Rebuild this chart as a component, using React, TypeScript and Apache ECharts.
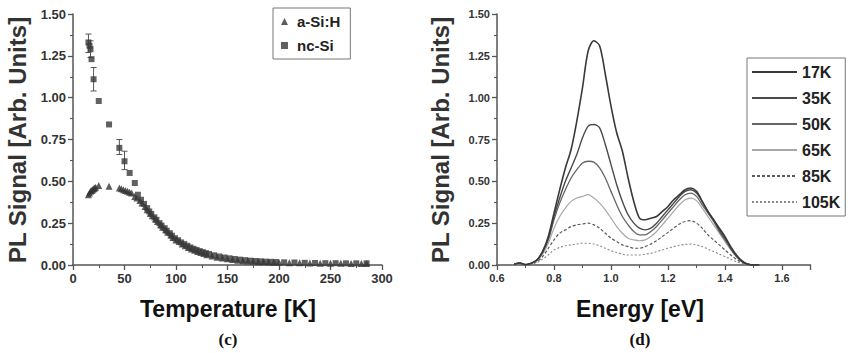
import React, { useEffect, useRef } from "react";
import * as echarts from "echarts";

// ---- Panel (c): PL signal vs temperature ----
const tempA = [15, 16, 17, 18, 19, 20, 21, 22, 25, 35, 45, 47, 49, 51, 53, 55, 57, 60, 62, 65, 67, 70, 72, 75, 77, 80, 82, 85, 87, 90, 92, 95, 97, 100, 103, 106, 109, 112, 115, 118, 121, 124, 127, 130, 135, 140, 145, 150, 155, 160, 165, 170, 175, 180, 185, 190, 195, 200, 210, 220, 230, 240, 250, 260, 270, 280, 285];
const sigA = [0.42, 0.43, 0.44, 0.445, 0.45, 0.455, 0.46, 0.465, 0.475, 0.47, 0.46, 0.455, 0.45, 0.445, 0.44, 0.435, 0.43, 0.41, 0.4, 0.385, 0.37, 0.35, 0.33, 0.31, 0.295, 0.275, 0.26, 0.24, 0.225, 0.21, 0.195, 0.18, 0.165, 0.15, 0.14, 0.125, 0.115, 0.105, 0.095, 0.088, 0.08, 0.074, 0.068, 0.062, 0.054, 0.047, 0.042, 0.037, 0.033, 0.029, 0.026, 0.024, 0.022, 0.02, 0.019, 0.018, 0.017, 0.016, 0.014, 0.013, 0.012, 0.011, 0.01, 0.01, 0.009, 0.009, 0.009];

const tempN = [15, 16, 17, 18, 20, 25, 35, 45, 50, 55, 60, 63, 66, 69, 72, 74, 76, 79, 81, 84, 86, 89, 91, 94, 96, 99, 102, 105, 108, 111, 114, 117, 120, 123, 126, 129, 132, 137, 142, 147, 152, 157, 162, 167, 172, 177, 182, 187, 192, 197, 205, 215, 225, 235, 245, 255, 265, 275, 285];
const sigN = [1.33, 1.31, 1.29, 1.23, 1.11, 0.98, 0.84, 0.7, 0.62, 0.55, 0.49, 0.42, 0.39, 0.365, 0.34, 0.32, 0.305, 0.285, 0.27, 0.25, 0.235, 0.22, 0.205, 0.19, 0.175, 0.16, 0.148, 0.135, 0.125, 0.115, 0.105, 0.097, 0.09, 0.083, 0.077, 0.071, 0.066, 0.058, 0.051, 0.045, 0.04, 0.036, 0.032, 0.029, 0.026, 0.024, 0.022, 0.02, 0.019, 0.018, 0.016, 0.015, 0.013, 0.012, 0.011, 0.011, 0.01, 0.01, 0.01];

const errT = [15, 17, 20, 45, 50];
const errLow = [1.27, 1.24, 1.04, 0.66, 0.57];
const errHigh = [1.38, 1.34, 1.18, 0.75, 0.68];

const tempTicks = ["0", "50", "100", "150", "200", "250", "300"];

// ---- Panel (d): PL spectra ----
const energy = [0.66, 0.68, 0.70, 0.72, 0.74, 0.76, 0.78, 0.80, 0.82, 0.84, 0.86, 0.88, 0.90, 0.92, 0.94, 0.96, 0.98, 1.00, 1.02, 1.04, 1.06, 1.08, 1.10, 1.12, 1.14, 1.16, 1.18, 1.20, 1.22, 1.24, 1.26, 1.28, 1.30, 1.32, 1.34, 1.36, 1.38, 1.40, 1.42, 1.44, 1.46, 1.48, 1.50, 1.52];
const k17 = [0.005, 0.012, 0.002, 0.01, 0.03, 0.08, 0.17, 0.31, 0.45, 0.58, 0.69, 0.86, 1.06, 1.28, 1.34, 1.31, 1.14, 0.95, 0.79, 0.68, 0.52, 0.38, 0.28, 0.27, 0.28, 0.29, 0.32, 0.35, 0.39, 0.42, 0.45, 0.46, 0.44, 0.38, 0.32, 0.27, 0.22, 0.17, 0.11, 0.06, 0.025, 0.005, 0.0, 0.0];
const k35 = [0.005, 0.012, 0.002, 0.01, 0.03, 0.08, 0.16, 0.29, 0.4, 0.5, 0.58, 0.66, 0.76, 0.83, 0.84, 0.82, 0.72, 0.6, 0.48, 0.38, 0.3, 0.25, 0.22, 0.21, 0.22, 0.25, 0.29, 0.33, 0.37, 0.41, 0.44, 0.45, 0.43, 0.38, 0.32, 0.27, 0.21, 0.16, 0.1, 0.055, 0.02, 0.005, 0.0, 0.0];
const k50 = [0.005, 0.01, 0.002, 0.01, 0.03, 0.075, 0.15, 0.27, 0.37, 0.45, 0.52, 0.57, 0.61, 0.62, 0.615, 0.58, 0.52, 0.44, 0.36, 0.29, 0.24, 0.2, 0.18, 0.18, 0.2, 0.23, 0.27, 0.31, 0.35, 0.39, 0.42, 0.43, 0.41, 0.36, 0.31, 0.26, 0.2, 0.15, 0.1, 0.05, 0.02, 0.005, 0.0, 0.0];
const k65 = [0.005, 0.01, 0.002, 0.01, 0.025, 0.065, 0.13, 0.22, 0.29, 0.34, 0.38, 0.4, 0.41, 0.42, 0.4, 0.37, 0.33, 0.28, 0.23, 0.19, 0.16, 0.15, 0.145, 0.15, 0.17, 0.2, 0.24, 0.28, 0.32, 0.36, 0.39, 0.4, 0.385, 0.34, 0.29, 0.24, 0.19, 0.14, 0.09, 0.05, 0.02, 0.005, 0.0, 0.0];
const k85 = [0.005, 0.008, 0.002, 0.008, 0.02, 0.05, 0.1, 0.15, 0.19, 0.21, 0.23, 0.24, 0.245, 0.25, 0.24, 0.22, 0.19, 0.16, 0.14, 0.12, 0.11, 0.1, 0.1, 0.11, 0.125, 0.145, 0.17, 0.195, 0.22, 0.245, 0.26, 0.265, 0.25, 0.22, 0.18, 0.15, 0.12, 0.09, 0.06, 0.035, 0.015, 0.005, 0.0, 0.0];
const k105 = [0.003, 0.006, 0.002, 0.006, 0.015, 0.035, 0.06, 0.09, 0.105, 0.115, 0.12, 0.125, 0.13, 0.13, 0.125, 0.115, 0.1, 0.085, 0.075, 0.065, 0.06, 0.06, 0.06, 0.065, 0.07, 0.08, 0.09, 0.1, 0.11, 0.118, 0.123, 0.125, 0.12, 0.11, 0.095, 0.08, 0.065, 0.05, 0.035, 0.02, 0.01, 0.003, 0.0, 0.0];

const specNames = ["17K", "35K", "50K", "65K", "85K", "105K"];
const specColors = ["#3a3a3a", "#4a4a4a", "#666666", "#a8a8a8", "#5a5a5a", "#8a8a8a"];
const specWidths = [1.6, 1.4, 1.3, 1.2, 1.2, 1.1];
const specTypes: any[] = ["solid", "solid", "solid", "solid", [3, 2], [2, 2]];

const FONT = "'Liberation Sans', Arial, sans-serif";

const zip = (xs: number[], ys: number[]) => xs.map((x, i) => [x, ys[i]]);

export default function App() {
  const ref = useRef<HTMLDivElement>(null);
  useEffect(() => {
    if (!ref.current) return;
    const chart = echarts.init(ref.current, null, { renderer: "svg" });
    const axisCommon = (fs: number) => ({
      axisLine: { show: true, onZero: false, lineStyle: { color: "#555", width: 1.5 } },
      axisTick: { show: true, inside: false, length: 5, lineStyle: { color: "#555", width: 1.3 } },
      minorTick: { show: true, splitNumber: 2, length: 3, lineStyle: { color: "#555", width: 1.1 } },
      splitLine: { show: false },
      axisLabel: { color: "#333", fontFamily: FONT, fontWeight: "bold", fontSize: fs, margin: 7 },
    });
    const specs = specNames.map((n, i) => ({
      name: n,
      type: "line",
      xAxisIndex: 1,
      yAxisIndex: 1,
      showSymbol: false,
      symbol: "none",
      smooth: 0.3,
      data: zip(energy, [k17, k35, k50, k65, k85, k105][i]),
      lineStyle: { color: specColors[i], width: specWidths[i], type: specTypes[i] },
      itemStyle: { color: specColors[i] },
      z: 10 - i,
    }));
    const option: any = {
      animation: false,
      backgroundColor: "#ffffff",
      grid: [
        { left: 73, top: 14, width: 309, height: 251 },
        { left: 497, top: 14, width: 313.5, height: 251 },
      ],
      xAxis: [
        {
          gridIndex: 0, type: "value", min: 0, max: 300, interval: 50,
          ...axisCommon(13),
          axisLabel: { ...axisCommon(13).axisLabel, formatter: (v: number) => tempTicks[Math.round(v / 50)] ?? "" },
        },
        {
          gridIndex: 1, type: "value", min: 0.6, max: 1.7, interval: 0.2,
          ...axisCommon(11),
          axisLabel: { ...axisCommon(11).axisLabel, showMaxLabel: false, formatter: (v: number) => (Math.abs(v - 1.7) < 1e-6 ? "" : v.toFixed(1)) },
        },
      ],
      yAxis: [
        {
          gridIndex: 0, type: "value", min: 0, max: 1.5, interval: 0.25,
          ...axisCommon(13),
          axisLabel: { ...axisCommon(13).axisLabel, formatter: (v: number) => v.toFixed(2) },
        },
        {
          gridIndex: 1, type: "value", min: 0, max: 1.5, interval: 0.25,
          ...axisCommon(11),
          axisLabel: { ...axisCommon(11).axisLabel, formatter: (v: number) => v.toFixed(2) },
        },
      ],
      legend: [
        {
          data: [
            { name: "a-Si:H", icon: "triangle" },
            { name: "nc-Si", icon: "rect" },
          ],
          orient: "vertical",
          left: 273,
          top: 8,
          itemWidth: 7,
          itemHeight: 7,
          itemGap: 9,
          padding: [6, 10, 6, 8],
          borderColor: "#777",
          borderWidth: 1,
          textStyle: { fontFamily: FONT, fontWeight: "bold", fontSize: 15, color: "#222", padding: [0, 0, 0, 4] },
        },
        {
          data: specNames,
          orient: "vertical",
          left: 747,
          top: 58,
          itemWidth: 45,
          itemHeight: 14,
          itemGap: 10,
          padding: [6, 5, 6, 4],
          borderColor: "#777",
          borderWidth: 1,
          itemStyle: { opacity: 0 },
          textStyle: { fontFamily: FONT, fontWeight: "bold", fontSize: 16, color: "#222" },
        },
      ],
      graphic: [
        { type: "text", x: 17, y: 140, rotation: Math.PI / 2, style: { text: "PL Signal [Arb. Units]", font: `bold 24px ${FONT}`, fill: "#333", textAlign: "center", textVerticalAlign: "middle" } },
        { type: "text", x: 440, y: 140, rotation: Math.PI / 2, style: { text: "PL Signal [Arb. Units]", font: `bold 24px ${FONT}`, fill: "#333", textAlign: "center", textVerticalAlign: "middle" } },
        { type: "text", x: 228, y: 309, style: { text: "Temperature [K]", font: `bold 23px ${FONT}`, fill: "#111", textAlign: "center", textVerticalAlign: "middle" } },
        { type: "text", x: 640, y: 309, style: { text: "Energy [eV]", font: `bold 23px ${FONT}`, fill: "#111", textAlign: "center", textVerticalAlign: "middle" } },
        { type: "text", x: 228, y: 339, style: { text: "(c)", font: `bold 17px 'Liberation Serif', 'Times New Roman', serif`, fill: "#111", textAlign: "center", textVerticalAlign: "middle" } },
        { type: "text", x: 640, y: 339, style: { text: "(d)", font: `bold 17px 'Liberation Serif', 'Times New Roman', serif`, fill: "#111", textAlign: "center", textVerticalAlign: "middle" } },
      ],
      series: [
        {
          name: "a-Si:H", type: "scatter", xAxisIndex: 0, yAxisIndex: 0,
          symbol: "triangle", symbolSize: 7,
          itemStyle: { color: "#333" },
          data: zip(tempA, sigA),
        },
        {
          name: "nc-Si", type: "scatter", xAxisIndex: 0, yAxisIndex: 0,
          symbol: "rect", symbolSize: 6,
          itemStyle: { color: "#3a3a3a" },
          data: zip(tempN, sigN),
        },
        {
          name: "errbars", type: "custom", xAxisIndex: 0, yAxisIndex: 0,
          data: errT.map((t, i) => [t, errLow[i], errHigh[i]]),
          renderItem: (params: any, api: any) => {
            const lo = api.coord([api.value(0), api.value(1)]);
            const hi = api.coord([api.value(0), api.value(2)]);
            const st = { stroke: "#555", lineWidth: 1 };
            return {
              type: "group",
              children: [
                { type: "line", shape: { x1: lo[0], y1: lo[1], x2: hi[0], y2: hi[1] }, style: st },
                { type: "line", shape: { x1: lo[0] - 3, y1: lo[1], x2: lo[0] + 3, y2: lo[1] }, style: st },
                { type: "line", shape: { x1: hi[0] - 3, y1: hi[1], x2: hi[0] + 3, y2: hi[1] }, style: st },
              ],
            };
          },
          z: 1,
        },
        ...specs,
      ],
    };
    chart.setOption(option);
    return () => chart.dispose();
  }, []);
  return <div ref={ref} style={{ position: "fixed", left: 0, top: 0, width: 850, height: 353 }} />;
}
